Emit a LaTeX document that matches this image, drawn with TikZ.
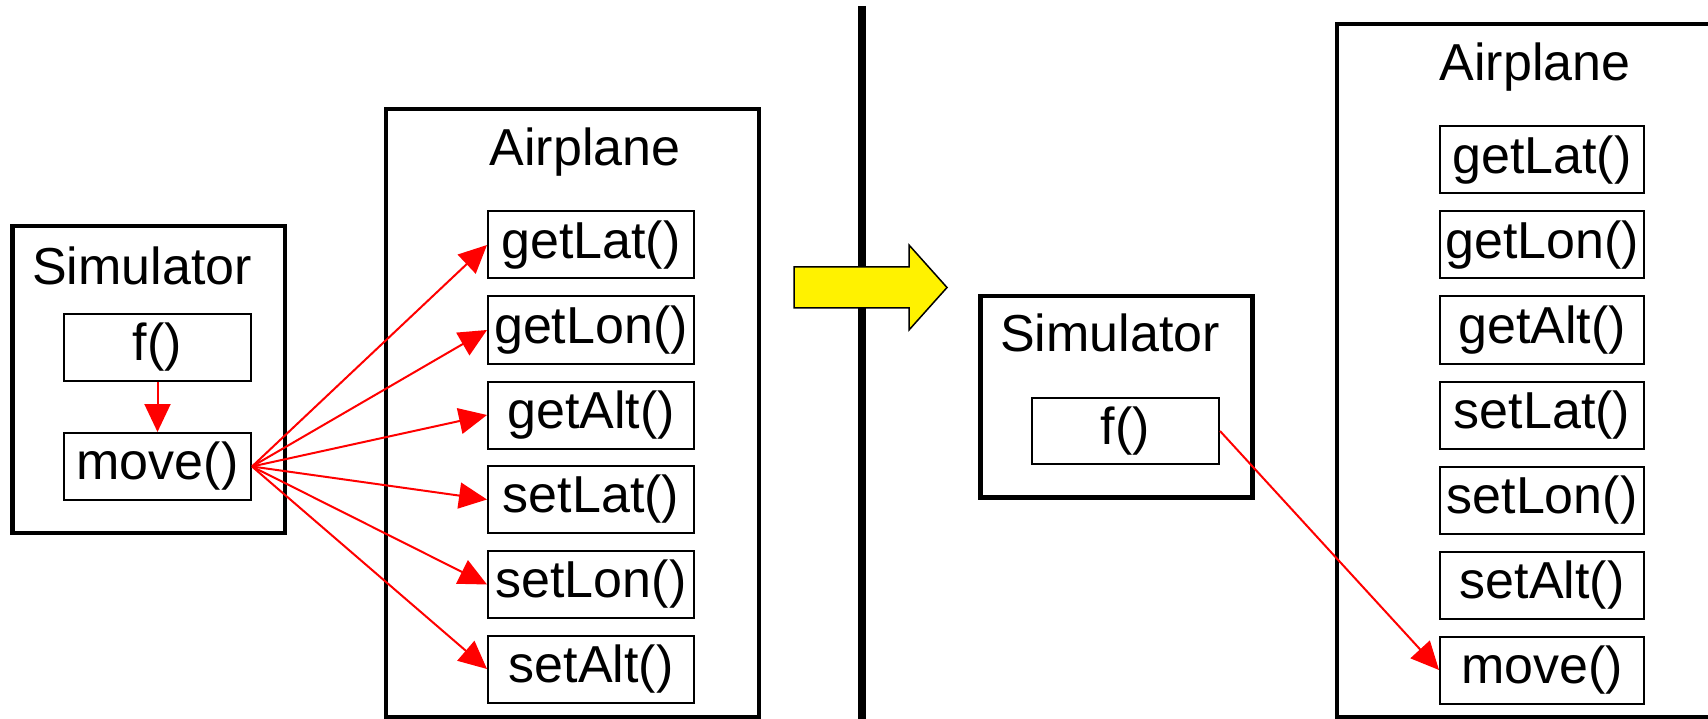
\documentclass[tikz,border=0pt]{standalone}
\usepackage{fontspec}
\setmainfont{Liberation Sans}
\usetikzlibrary{arrows.meta}
\begin{document}
\begin{tikzpicture}[x=1pt,y=-1pt,
  every node/.style={font=\fontsize{52}{62}\selectfont},
  bigbox/.style={draw,line width=4.5pt,inner sep=0pt},
  meth/.style={draw,line width=2pt,inner sep=0pt,minimum height=67pt},
  lmeth/.style={meth,minimum width=206pt},
  rmeth/.style={meth,minimum width=204pt},
  call/.style={red,line width=2pt,-{Triangle[length=28pt,width=26pt]}},
  title/.style={anchor=base,inner sep=0pt}]
\useasboundingbox (0,0) rectangle (1708,719);
\clip (0,0) rectangle (1708,719);
% ---------- left side ----------
\node[bigbox,minimum width=272.5pt,minimum height=307pt] (simL) at (148.5,379.5) {};
\node[title] (simLt) at (142,285) {Simulator};
\node[meth,minimum width=187pt] (fL) at (157.5,347.5) {f()};
\node[meth,minimum width=187pt] (moveL) at (157.5,466.5) {move()};
\node[bigbox,minimum width=373pt,minimum height=608pt] (airL) at (572.5,413) {};
\node[title] (airLt) at (585,166) {Airplane};
\node[lmeth] (getLatL) at (591,245) {getLat()};
\node[lmeth] (getLonL) at (591,330) {getLon()};
\node[lmeth] (getAltL) at (591,415) {getAlt()};
\node[lmeth] (setLatL) at (591,499.5) {setLat()};
\node[lmeth] (setLonL) at (591,584.5) {setLon()};
\node[lmeth] (setAltL) at (591,669) {setAlt()};
\draw[call] (fL.south) -- (moveL.north);
\foreach \t in {getLatL,getLonL,getAltL,setLatL,setLonL,setAltL}
  \draw[call] (moveL.east) -- (\t.west);
% ---------- divider and transition arrow ----------
\draw[line width=8pt] (862,6) -- (862,725);
\draw[fill=yellow,line width=1.5pt,line join=miter]
  (794,267) -- (909,267) -- (909,245) -- (947,287.5) -- (909,330) -- (909,308) -- (794,308) -- cycle;
% ---------- right side ----------
\node[bigbox,minimum width=272pt,minimum height=201.5pt] (simR) at (1116.5,396.75) {};
\node[title] (simRt) at (1110,352) {Simulator};
\node[meth,minimum width=187pt,minimum height=66pt] (fR) at (1125.5,431) {f()};
\node[bigbox,minimum width=443pt,minimum height=693pt] (airR) at (1558.5,370.5) {};
\node[title] (airRt) at (1535,81) {Airplane};
\node[rmeth] (getLatR) at (1542,160) {getLat()};
\node[rmeth] (getLonR) at (1542,245) {getLon()};
\node[rmeth] (getAltR) at (1542,330) {getAlt()};
\node[rmeth] (setLatR) at (1542,415) {setLat()};
\node[rmeth] (setLonR) at (1542,500) {setLon()};
\node[rmeth] (setAltR) at (1542,585) {setAlt()};
\node[rmeth] (moveR) at (1542,670) {move()};
\draw[call] (fR.east) -- (moveR.west);
\end{tikzpicture}
\end{document}
